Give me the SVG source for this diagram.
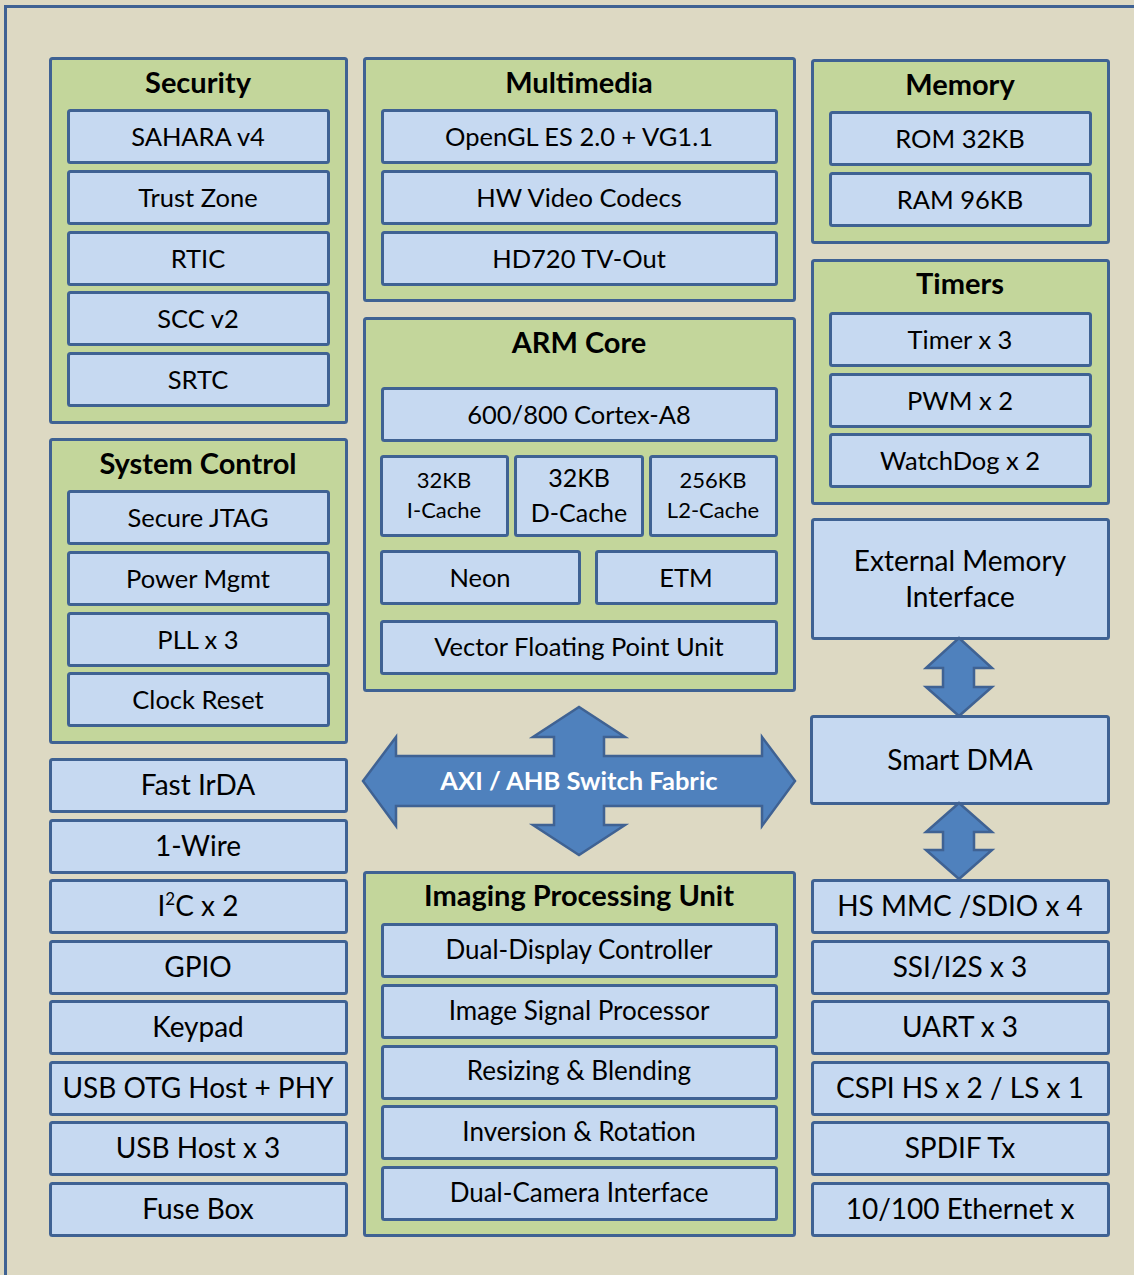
<svg xmlns="http://www.w3.org/2000/svg" width="1134" height="1275" viewBox="0 0 1134 1275">
<style>
.bg{fill:#DDD9C3}
.frame{fill:#DDD9C3;stroke:#3F6293;stroke-width:3}
.grp{fill:#C3D69B;stroke:#3F6293;stroke-width:3}
.box{fill:#C6D9F1;stroke:#3F6293;stroke-width:3}
.arr{fill:#4F81BD;stroke:#3F6293;stroke-width:2.5;stroke-linejoin:miter}
text{font-family:Lato,"Open Sans","Liberation Sans",sans-serif;fill:#000;text-anchor:middle}
.t{font-size:25.5px}
.L{font-size:28px}
.s{font-size:26px}
.c{font-size:22px}
.d{font-size:25px}
.h{font-size:29px;font-weight:bold}
.w{font-size:25.5px;font-weight:bold;fill:#fff}
</style>
<rect class="bg" x="0" y="0" width="1134" height="1275"/>
<rect class="frame" x="5.5" y="6.5" width="1140" height="1280"/>

<g id="security">
<rect class="grp" x="50.5" y="58.5" width="296" height="364" rx="2"/>
<text class="h" x="198" y="93">Security</text>
<rect class="box" x="68.5" y="110.5" width="260" height="52" rx="2"/><text class="t" x="198" y="146">SAHARA v4</text>
<rect class="box" x="68.5" y="171.5" width="260" height="52" rx="2"/><text class="t" x="198" y="207">Trust Zone</text>
<rect class="box" x="68.5" y="232.5" width="260" height="52" rx="2"/><text class="t" x="198" y="268">RTIC</text>
<rect class="box" x="68.5" y="292.5" width="260" height="52" rx="2"/><text class="t" x="198" y="328">SCC v2</text>
<rect class="box" x="68.5" y="353.5" width="260" height="52" rx="2"/><text class="t" x="198" y="389">SRTC</text>
</g>

<g id="system-control">
<rect class="grp" x="50.5" y="439.5" width="296" height="303" rx="2"/>
<text class="h" x="198" y="474">System Control</text>
<rect class="box" x="68.5" y="491.5" width="260" height="52" rx="2"/><text class="t" x="198" y="527">Secure JTAG</text>
<rect class="box" x="68.5" y="552.5" width="260" height="52" rx="2"/><text class="t" x="198" y="588">Power Mgmt</text>
<rect class="box" x="68.5" y="613.5" width="260" height="52" rx="2"/><text class="t" x="198" y="649">PLL x 3</text>
<rect class="box" x="68.5" y="673.5" width="260" height="52" rx="2"/><text class="t" x="198" y="709">Clock Reset</text>
</g>

<g id="fast-irda"><rect class="box" x="50.5" y="759.5" width="296" height="52" rx="2"/><text class="L" x="198" y="795">Fast IrDA</text></g>
<g id="one-wire"><rect class="box" x="50.5" y="820.5" width="296" height="52" rx="2"/><text class="L" x="198" y="856">1-Wire</text></g>
<g id="i2c"><rect class="box" x="50.5" y="880.5" width="296" height="52" rx="2"/><text class="L" x="198" y="916">I<tspan font-size="17" dy="-11">2</tspan><tspan dy="11">C x 2</tspan></text></g>
<g id="gpio"><rect class="box" x="50.5" y="941.5" width="296" height="52" rx="2"/><text class="L" x="198" y="977">GPIO</text></g>
<g id="keypad"><rect class="box" x="50.5" y="1001.5" width="296" height="52" rx="2"/><text class="L" x="198" y="1037">Keypad</text></g>
<g id="usb-otg"><rect class="box" x="50.5" y="1062.5" width="296" height="52" rx="2"/><text class="L" x="198" y="1098">USB OTG Host + PHY</text></g>
<g id="usb-host"><rect class="box" x="50.5" y="1122.5" width="296" height="52" rx="2"/><text class="L" x="198" y="1158">USB Host x 3</text></g>
<g id="fuse-box"><rect class="box" x="50.5" y="1183.5" width="296" height="52" rx="2"/><text class="L" x="198" y="1219">Fuse Box</text></g>

<g id="multimedia">
<rect class="grp" x="364.5" y="58.5" width="430" height="242" rx="2"/>
<text class="h" x="579" y="93">Multimedia</text>
<rect class="box" x="382.5" y="110.5" width="394" height="52" rx="2"/><text class="t" x="579" y="146">OpenGL ES 2.0 + VG1.1</text>
<rect class="box" x="382.5" y="171.5" width="394" height="52" rx="2"/><text class="t" x="579" y="207">HW Video Codecs</text>
<rect class="box" x="382.5" y="232.5" width="394" height="52" rx="2"/><text class="t" x="579" y="268">HD720 TV-Out</text>
</g>

<g id="arm-core">
<rect class="grp" x="364.5" y="318.5" width="430" height="372" rx="2"/>
<text class="h" x="579" y="353">ARM Core</text>
<rect class="box" x="382.5" y="388.5" width="394" height="52" rx="2"/><text class="t" x="579" y="424">600/800 Cortex-A8</text>
<rect class="box" x="381.5" y="456.5" width="126" height="79" rx="2"/><text class="c" x="444" y="488">32KB</text><text class="c" x="444" y="518">I-Cache</text>
<rect class="box" x="515.5" y="456.5" width="127" height="79" rx="2"/><text class="d" x="579" y="487">32KB</text><text class="d" x="579" y="522">D-Cache</text>
<rect class="box" x="650.5" y="456.5" width="126" height="79" rx="2"/><text class="c" x="713" y="488">256KB</text><text class="c" x="713" y="518">L2-Cache</text>
<rect class="box" x="381.5" y="551.5" width="198" height="52" rx="2"/><text class="t" x="480" y="587">Neon</text>
<rect class="box" x="596.5" y="551.5" width="180" height="52" rx="2"/><text class="t" x="686" y="587">ETM</text>
<rect class="box" x="381.5" y="621.5" width="395" height="52" rx="2"/><text class="t" x="579" y="656">Vector Floating Point Unit</text>
</g>

<g id="imaging">
<rect class="grp" x="364.5" y="872.5" width="430" height="363" rx="2"/>
<text class="h" x="579" y="906">Imaging Processing Unit</text>
<rect class="box" x="382.5" y="924.5" width="394" height="52" rx="2"/><text class="s" x="579" y="959">Dual-Display Controller</text>
<rect class="box" x="382.5" y="985.5" width="394" height="52" rx="2"/><text class="s" x="579" y="1020">Image Signal Processor</text>
<rect class="box" x="382.5" y="1046.5" width="394" height="52" rx="2"/><text class="s" x="579" y="1080">Resizing &amp; Blending</text>
<rect class="box" x="382.5" y="1106.5" width="394" height="52" rx="2"/><text class="s" x="579" y="1141">Inversion &amp; Rotation</text>
<rect class="box" x="382.5" y="1167.5" width="394" height="52" rx="2"/><text class="s" x="579" y="1202">Dual-Camera Interface</text>
</g>

<g id="memory">
<rect class="grp" x="812.5" y="60.5" width="296" height="182" rx="2"/>
<text class="h" x="960" y="95">Memory</text>
<rect class="box" x="830.5" y="112.5" width="260" height="52" rx="2"/><text class="t" x="960" y="148">ROM 32KB</text>
<rect class="box" x="830.5" y="173.5" width="260" height="52" rx="2"/><text class="t" x="960" y="209">RAM 96KB</text>
</g>

<g id="timers">
<rect class="grp" x="812.5" y="260.5" width="296" height="243" rx="2"/>
<text class="h" x="960" y="294">Timers</text>
<rect class="box" x="830.5" y="313.5" width="260" height="52" rx="2"/><text class="t" x="960" y="349">Timer x 3</text>
<rect class="box" x="830.5" y="374.5" width="260" height="52" rx="2"/><text class="t" x="960" y="410">PWM x 2</text>
<rect class="box" x="830.5" y="434.5" width="260" height="52" rx="2"/><text class="t" x="960" y="470">WatchDog x 2</text>
</g>

<g id="emi"><rect class="box" x="812.5" y="519.5" width="296" height="119" rx="2"/><text class="L" x="960" y="571" font-size="29">External Memory</text><text class="L" x="960" y="607" font-size="29">Interface</text></g>
<g id="smart-dma"><rect class="box" x="811.5" y="716.5" width="297" height="87" rx="2"/><text class="L" x="960" y="770">Smart DMA</text></g>
<g id="hs-mmc"><rect class="box" x="812.5" y="880.5" width="296" height="52" rx="2"/><text class="L" x="960" y="916">HS MMC /SDIO x 4</text></g>
<g id="ssi"><rect class="box" x="812.5" y="941.5" width="296" height="52" rx="2"/><text class="L" x="960" y="977">SSI/I2S x 3</text></g>
<g id="uart"><rect class="box" x="812.5" y="1001.5" width="296" height="52" rx="2"/><text class="L" x="960" y="1037">UART x 3</text></g>
<g id="cspi"><rect class="box" x="812.5" y="1062.5" width="296" height="52" rx="2"/><text class="L" x="960" y="1098">CSPI HS x 2 / LS x 1</text></g>
<g id="spdif"><rect class="box" x="812.5" y="1122.5" width="296" height="52" rx="2"/><text class="L" x="960" y="1158">SPDIF Tx</text></g>
<g id="ethernet"><rect class="box" x="812.5" y="1183.5" width="296" height="52" rx="2"/><text class="L" x="960" y="1219">10/100 Ethernet x</text></g>

<g id="connectors">
<polygon class="arr" points="363,781 396,737 396,756 554,756 554,737 533,737 579,707 625,737 604,737 604,756 762,756 762,737 795,781 762,826 762,806 604,806 604,825 625,825 579,855 533,825 554,825 554,806 396,806 396,826"/>
<text class="w" x="579" y="790">AXI / AHB Switch Fabric</text>
<polygon class="arr" points="959,638 992,668 974,668 974,687 992,687 959,716 926,687 943,687 943,668 926,668"/>
<polygon class="arr" points="959,803 992,832 974,832 974,850 992,850 959,879 926,850 943,850 943,832 926,832"/>
</g>
</svg>
